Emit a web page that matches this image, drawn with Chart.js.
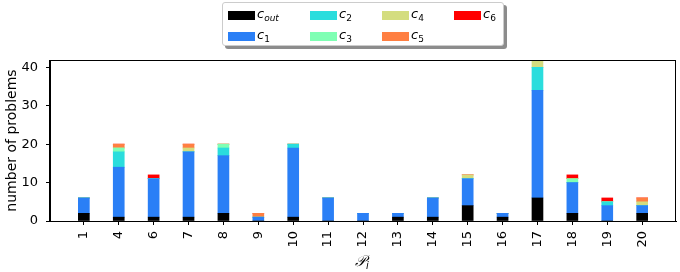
<!DOCTYPE html>
<html>
<head>
<meta charset="utf-8">
<script src="https://cdn.jsdelivr.net/npm/chart.js@4"></script>
<style>
  html, body { margin: 0; padding: 0; background: #fff; }
  #wrap { position: relative; width: 680px; height: 272px; font-family: "DejaVu Sans", sans-serif; }
  #legend {
    position: absolute; left: 222px; top: 2px; width: 282px; height: 44px;
    box-sizing: border-box; border: 1px solid #cccccc; border-radius: 3px; background: #fff;
    box-shadow: 3px 3px 0 rgba(0, 0, 0, 0.45);
  }
  .item { position: absolute; height: 14px; }
  .patch { position: absolute; left: 0; top: 3px; width: 27px; height: 9px; }
  .lbl { position: absolute; left: 29px; top: -2px; font-size: 13px; font-style: italic; white-space: nowrap; color: #000; }
  .lbl sub { font-size: 9px; vertical-align: -3px; }
  .lbl sub.n { font-style: normal; }
  #xlabel { position: absolute; left: 355px; top: 252px; font-size: 15px; font-style: italic; color: #000; }
  #xlabel sub { font-size: 10px; vertical-align: -3px; }
</style>
</head>
<body>
<div id="wrap">
  <canvas id="chart"></canvas>
  <div id="legend"></div>
  <div id="xlabel">&#x1D4AB;<sub>i</sub></div>
</div>
<script>
// problem ids on the x axis
const labels = ['1', '4', '6', '7', '8', '9', '10', '11', '12', '13', '14', '15', '16', '17', '18', '19', '20'];

// counts per class
const cOut = [2, 1, 1, 1, 2, 0, 1, 0, 0, 1, 1, 4, 1, 6, 2, 0, 2];
const c1 = [4, 13, 10, 17, 15, 1, 18, 6, 2, 1, 5, 7, 1, 28, 8, 4, 2];
const c2 = [0, 4, 0, 0, 2, 0, 1, 0, 0, 0, 0, 0, 0, 6, 0, 1, 0];
const c3 = [0, 1, 0, 0, 1, 0, 0, 0, 0, 0, 0, 0, 0, 0, 1, 0, 0];
const c4 = [0, 0, 0, 1, 0, 0, 0, 0, 0, 0, 0, 1, 0, 2, 0, 0, 1];
const c5 = [0, 1, 0, 1, 0, 1, 0, 0, 0, 0, 0, 0, 0, 0, 0, 0, 1];
const c6 = [0, 0, 1, 0, 0, 0, 0, 0, 0, 0, 0, 0, 0, 0, 1, 1, 0];

const yTicks = [0, 10, 20, 30, 40];

const series = [
	{ name: 'out', data: cOut, color: '#000000' },
	{ name: '1', data: c1, color: '#2a7ff6' },
	{ name: '2', data: c2, color: '#2adddd' },
	{ name: '3', data: c3, color: '#7fffb4' },
	{ name: '4', data: c4, color: '#d4dd7f' },
	{ name: '5', data: c5, color: '#ff7f42' },
	{ name: '6', data: c6, color: '#ff0000' },
];

// legend, filled column by column like matplotlib
const legendEl = document.getElementById( 'legend' );
const colX = [5, 87, 159, 231];
const rowY = [5, 26];
series.forEach( ( s, i ) => {
	const item = document.createElement( 'div' );
	item.className = 'item';
	item.style.left = colX[ Math.floor( i / 2 ) ] + 'px';
	item.style.top = rowY[ i % 2 ] + 'px';
	const sub = s.name === 'out' ? '<sub>out</sub>' : '<sub class="n">' + s.name + '</sub>';
	item.innerHTML = '<div class="patch" style="background:' + s.color + '"></div><span class="lbl">c' + sub + '</span>';
	legendEl.appendChild( item );
} );

const framePlugin = {
	id: 'frame',
	afterDraw( chart ) {
		const { ctx, chartArea: a } = chart;
		ctx.save();
		ctx.strokeStyle = '#000';
		ctx.lineWidth = 1;
		ctx.strokeRect( Math.round( a.left ) - 0.5, Math.round( a.top ) + 0.5, Math.round( a.right - a.left ), Math.round( a.bottom - a.top ) );
		// y axis title
		ctx.translate( 12, ( a.top + a.bottom ) / 2 );
		ctx.rotate( -Math.PI / 2 );
		ctx.font = '14px "DejaVu Sans"';
		ctx.fillStyle = '#000';
		ctx.textAlign = 'center';
		ctx.textBaseline = 'middle';
		ctx.fillText( 'number of problems', 0, 0 );
		ctx.restore();
	},
};

const tickFont = { family: 'DejaVu Sans', size: 13 };

new Chart( document.getElementById( 'chart' ), {
	type: 'bar',
	data: {
		datasets: series.map( ( s ) => ( {
			label: s.name,
			data: s.data.map( ( v, i ) => ( { x: i, y: v } ) ),
			backgroundColor: s.color,
			borderWidth: 0,
			barThickness: 11,
		} ) ),
	},
	options: {
		responsive: true,
		maintainAspectRatio: false,
		animation: false,
		devicePixelRatio: 1,
		layout: { padding: { top: 60, right: 4, left: 0, bottom: 0 } },
		plugins: {
			legend: { display: false },
			tooltip: { enabled: false },
		},
		scales: {
			x: {
				type: 'linear',
				stacked: true,
				offset: false,
				min: -0.97,
				max: 16.97,
				afterBuildTicks: ( s ) => { s.ticks = labels.map( ( _, i ) => ( { value: i } ) ); },
				afterFit: ( s ) => { s.height = 51; },
				ticks: {
					callback: ( v ) => labels[ v ],
					minRotation: 90,
					maxRotation: 90,
					autoSkip: false,
					padding: 6,
					color: '#000',
					font: tickFont,
				},
				grid: { offset: false, drawOnChartArea: false, drawTicks: true, tickLength: 4, color: '#000' },
				border: { display: true, color: '#000' },
			},
			y: {
				stacked: true,
				min: 0,
				max: 41.9,
				afterBuildTicks: ( s ) => { s.ticks = yTicks.map( ( v ) => ( { value: v } ) ); },
				afterFit: ( s ) => { s.width = 50; },
				ticks: { padding: 8, color: '#000', font: tickFont },
				grid: { drawOnChartArea: false, drawTicks: true, tickLength: 4, color: '#000' },
				border: { display: true, color: '#000' },
			},
		},
	},
	plugins: [ framePlugin ],
} );
</script>
</body>
</html>
